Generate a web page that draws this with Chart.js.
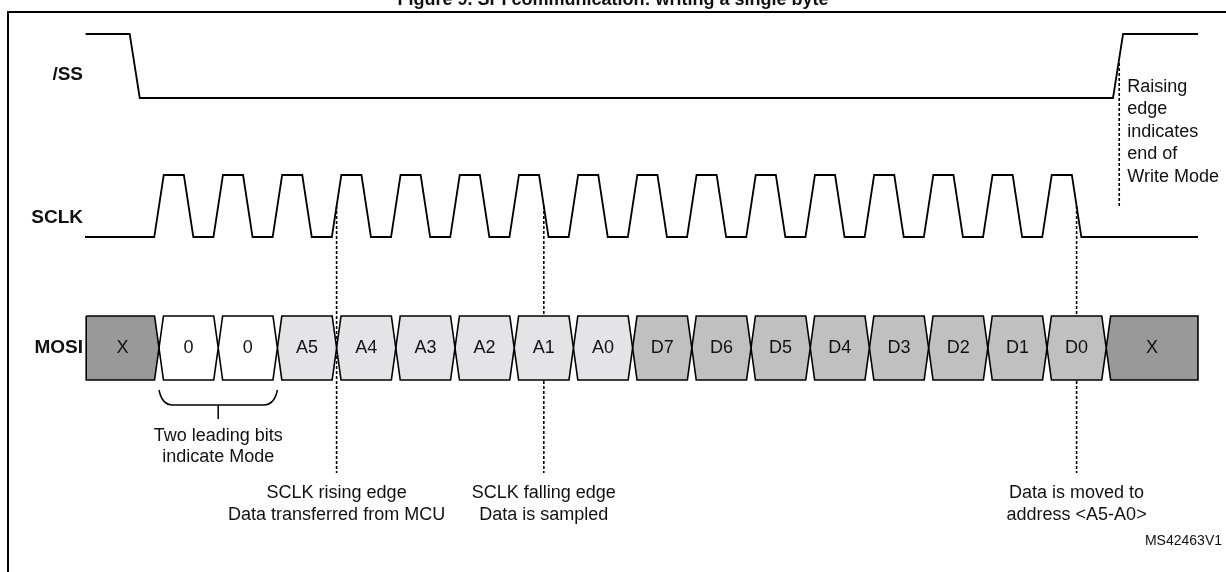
<!DOCTYPE html>
<html>
<head>
<meta charset="utf-8">
<script src="https://cdn.jsdelivr.net/npm/chart.js@4.4.1/dist/chart.umd.min.js"></script>
<style>
  html, body { margin: 0; padding: 0; background: #fff; }
  #wrap { position: relative; width: 1226px; height: 572px; overflow: hidden; }
  #frame { position: absolute; left: 7px; top: 11px; width: 1300px; height: 700px; border-left: 2.5px solid #000; border-top: 2.5px solid #000; }
  canvas { position: absolute; left: 0; top: 0; }
</style>
</head>
<body>
<div id="wrap">
  <div id="frame"></div>
  <canvas id="chart" width="1226" height="572"></canvas>
</div>
<script>
// time unit = one SCLK period, 0 = first rising edge
const mosiBits = ['X', '0', '0', 'A5', 'A4', 'A3', 'A2', 'A1', 'A0', 'D7', 'D6', 'D5', 'D4', 'D3', 'D2', 'D1', 'D0', 'X']
const mosiEdges = [-1.23, 0, 1, 2, 3, 4, 5, 6, 7, 8, 9, 10, 11, 12, 13, 14, 15, 16, 17.55]

const sclkStart = -1.25
const sclkEnd = 17.55
const sclkEdges = [0, 0.5, 1, 1.5, 2, 2.5, 3, 3.5, 4, 4.5, 5, 5.5, 6, 6.5, 7, 7.5,
  8, 8.5, 9, 9.5, 10, 10.5, 11, 11.5, 12, 12.5, 13, 13.5, 14, 14.5, 15, 15.5]

const ssStart = -1.24
const ssEnd = 17.55
const ssEdges = [-0.41, 16.2]

// edges that get a dotted marker
const markerTimes = [3, 6.5, 15.5]
const ssMarkerTime = 16.22

const notes = [
  ['SCLK rising edge', 'Data transferred from MCU'],
  ['SCLK falling edge', 'Data is sampled'],
  ['Data is moved to', 'address <A5-A0>'],
]
const modeNote = ['Two leading bits', 'indicate Mode']
const ssNote = ['Raising', 'edge', 'indicates', 'end of', 'Write Mode']

const signalNames = ['/SS', 'SCLK', 'MOSI']

// vertical layout (canvas units, y axis runs top to bottom)
const lanes = {
  ss: { hi: 34, lo: 98 },
  sclk: { hi: 175, lo: 237 },
  mosi: { hi: 316, lo: 380 },
}

const FONT = '"Liberation Sans", Arial, sans-serif'

function wave(start, end, edges, ramp, lane, level0) {
  const y = (l) => (l ? lane.hi : lane.lo)
  let lvl = level0
  const pts = [{ x: start, y: y(lvl) }]
  edges.forEach((t) => {
    pts.push({ x: t - ramp / 2, y: y(lvl) })
    lvl = 1 - lvl
    pts.push({ x: t + ramp / 2, y: y(lvl) })
  })
  pts.push({ x: end, y: y(lvl) })
  return pts
}

function boxColor(bit) {
  if (bit === 'X') return '#999999'
  if (bit === '0') return '#ffffff'
  if (bit[0] === 'A') return '#e4e4e6'
  return '#c0c0c0'
}

function busBox(a, b, first, last) {
  const d = 0.075
  const lane = lanes.mosi
  const mid = (lane.hi + lane.lo) / 2
  const pts = []
  if (first) {
    pts.push({ x: a, y: lane.hi })
  } else {
    pts.push({ x: a, y: mid }, { x: a + d, y: lane.hi })
  }
  if (last) {
    pts.push({ x: b, y: lane.hi }, { x: b, y: lane.lo })
  } else {
    pts.push({ x: b - d, y: lane.hi }, { x: b, y: mid }, { x: b - d, y: lane.lo })
  }
  if (first) {
    pts.push({ x: a, y: lane.lo }, { x: a, y: lane.hi })
  } else {
    pts.push({ x: a + d, y: lane.lo }, { x: a, y: mid })
  }
  return pts
}

const datasets = []

datasets.push({
  data: wave(ssStart, ssEnd, ssEdges, 0.17, lanes.ss, 1),
  borderColor: '#000', borderWidth: 1.8, order: 1,
})
datasets.push({
  data: wave(sclkStart, sclkEnd, sclkEdges, 0.16, lanes.sclk, 0),
  borderColor: '#000', borderWidth: 1.8, order: 1,
})

mosiBits.forEach((bit, i) => {
  datasets.push({
    data: busBox(mosiEdges[i], mosiEdges[i + 1], i === 0, i === mosiBits.length - 1),
    fill: 'shape',
    backgroundColor: boxColor(bit),
    borderColor: '#000', borderWidth: 1.6, order: 5,
  })
})

const sclkMid = (lanes.sclk.hi + lanes.sclk.lo) / 2
markerTimes.forEach((t) => {
  datasets.push({
    data: [{ x: t, y: sclkMid }, { x: t, y: 473 }],
    borderColor: '#000', borderWidth: 1.6, borderDash: [3, 2], order: 10,
  })
})
datasets.push({
  data: [{ x: ssMarkerTime, y: 63 }, { x: ssMarkerTime, y: 207 }],
  borderColor: '#000', borderWidth: 1.6, borderDash: [3, 2], order: 10,
})

datasets.forEach((d) => {
  d.showLine = true
  d.pointRadius = 0
  if (!d.fill) d.fill = false
})

const textPlugin = {
  id: 'textPlugin',
  afterDatasetsDraw(chart) {
    const { ctx } = chart
    const x = chart.scales.x
    const y = chart.scales.y
    ctx.save()
    ctx.fillStyle = '#111'
    ctx.textBaseline = 'middle'

    // title, cut by the top edge
    ctx.font = 'bold 18px ' + FONT
    ctx.textAlign = 'center'
    ctx.textBaseline = 'alphabetic'
    ctx.fillText('Figure 9. SPI communication: writing a single byte', 613, 5)
    ctx.textBaseline = 'middle'

    // signal names
    ctx.font = 'bold 19px ' + FONT
    ctx.textAlign = 'right'
    const laneKeys = ['ss', 'sclk', 'mosi']
    const nameY = [75, 218, 348]
    signalNames.forEach((n, i) => ctx.fillText(n, 83, y.getPixelForValue(nameY[i])))

    // bit labels
    ctx.font = '18px ' + FONT
    ctx.textAlign = 'center'
    const mid = (lanes.mosi.hi + lanes.mosi.lo) / 2
    mosiBits.forEach((bit, i) => {
      const cx = x.getPixelForValue((mosiEdges[i] + mosiEdges[i + 1]) / 2)
      ctx.fillText(bit, cx, y.getPixelForValue(mid))
    })

    // brace under the two mode bits
    const bx0 = x.getPixelForValue(mosiEdges[1])
    const bx1 = x.getPixelForValue(mosiEdges[3])
    const bm = (bx0 + bx1) / 2
    ctx.strokeStyle = '#000'
    ctx.lineWidth = 1.5
    ctx.beginPath()
    ctx.moveTo(bx0, y.getPixelForValue(390))
    ctx.quadraticCurveTo(bx0 + 3, y.getPixelForValue(405), bx0 + 14, y.getPixelForValue(405))
    ctx.lineTo(bx1 - 14, y.getPixelForValue(405))
    ctx.quadraticCurveTo(bx1 - 3, y.getPixelForValue(405), bx1, y.getPixelForValue(390))
    ctx.moveTo(bm, y.getPixelForValue(405))
    ctx.lineTo(bm, y.getPixelForValue(419))
    ctx.stroke()

    ctx.fillText(modeNote[0], bm, y.getPixelForValue(436))
    ctx.fillText(modeNote[1], bm, y.getPixelForValue(457))

    notes.forEach((lines, i) => {
      const cx = x.getPixelForValue(markerTimes[i])
      ctx.fillText(lines[0], cx, y.getPixelForValue(493))
      ctx.fillText(lines[1], cx, y.getPixelForValue(515))
    })

    ctx.textAlign = 'left'
    const sx = x.getPixelForValue(ssMarkerTime) + 8
    ssNote.forEach((s, i) => ctx.fillText(s, sx, y.getPixelForValue(87 + i * 22.5)))

    ctx.font = '14px ' + FONT
    ctx.textAlign = 'right'
    ctx.fillText('MS42463V1', 1222, y.getPixelForValue(541))
    ctx.restore()
  },
}

const PX0 = 159
const PERIOD = 59.2

new Chart(document.getElementById('chart'), {
  type: 'scatter',
  data: { datasets },
  options: {
    responsive: false,
    animation: false,
    events: [],
    layout: { padding: 0 },
    scales: {
      x: { type: 'linear', display: false, min: -PX0 / PERIOD, max: (1226 - PX0) / PERIOD },
      y: { type: 'linear', display: false, min: 0, max: 572, reverse: true },
    },
    plugins: {
      legend: { display: false },
      tooltip: { enabled: false },
    },
    elements: { line: { tension: 0 } },
  },
  plugins: [textPlugin],
})
</script>
</body>
</html>
